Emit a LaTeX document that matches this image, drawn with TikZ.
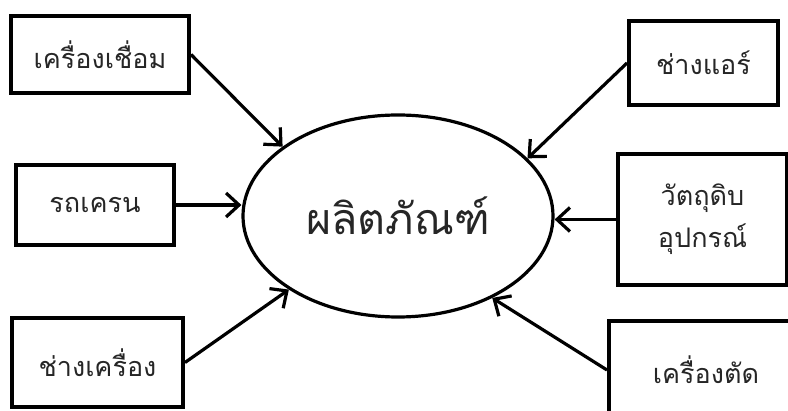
\documentclass[tikz,border=0pt]{standalone}
\usepackage{fontspec}
\newfontfamily\thaifont[Script=Thai]{Loma}
\usetikzlibrary{shapes.geometric,arrows.meta}
\tikzset{
  srcbox/.style={draw,line width=4pt,inner sep=0pt,align=center,text=black!85,
    font=\thaifont\fontsize{27}{42}\selectfont},
  arr/.style={line width=3.2pt,-{Straight Barb[length=13pt,width=24pt,line width=3.2pt]}}
}
\begin{document}
\begin{tikzpicture}[x=1pt,y=-1pt]
\useasboundingbox (0,0) rectangle (788,411);
\clip (0,0) rectangle (788,411);
% centre
\node[draw,ellipse,line width=3.2pt,minimum width=310pt,minimum height=202pt,inner sep=0pt,
  text=black!85,font=\thaifont\fontsize{43}{48}\selectfont] (prod) at (398,216) {ผลิตภัณฑ์};
% left side
\node[srcbox,minimum width=178pt,minimum height=77pt] (weld) at (100,54.5) {เครื่องเชื่อม};
\node[srcbox,minimum width=158pt,minimum height=80pt] (crane) at (95,205) {รถเครน};
\node[srcbox,minimum width=171pt,minimum height=89pt] (mech) at (97.5,362.5) {ช่างเครื่อง};
% right side
\node[srcbox,minimum width=149pt,minimum height=84pt] (air) at (703.5,63) {ช่างแอร์};
\node[srcbox,minimum width=169pt,minimum height=131pt] (raw) at (702.5,219.5) {วัตถุดิบ\\อุปกรณ์};
\node[srcbox,minimum width=194pt,minimum height=98pt] (cut) at (706,370) {เครื่องตัด};
% arrows
\draw[arr] (weld.east) -- (prod.149);
\draw[arr] (crane.east) -- (crane.east -| prod.west);
\draw[arr] (mech.east) -- (prod.214);
\draw[arr] (air.west) -- (prod.24);
\draw[arr] (raw.west) -- (raw.west -| prod.east);
\draw[arr] (cut.west) -- (prod.319);
\end{tikzpicture}
\end{document}
